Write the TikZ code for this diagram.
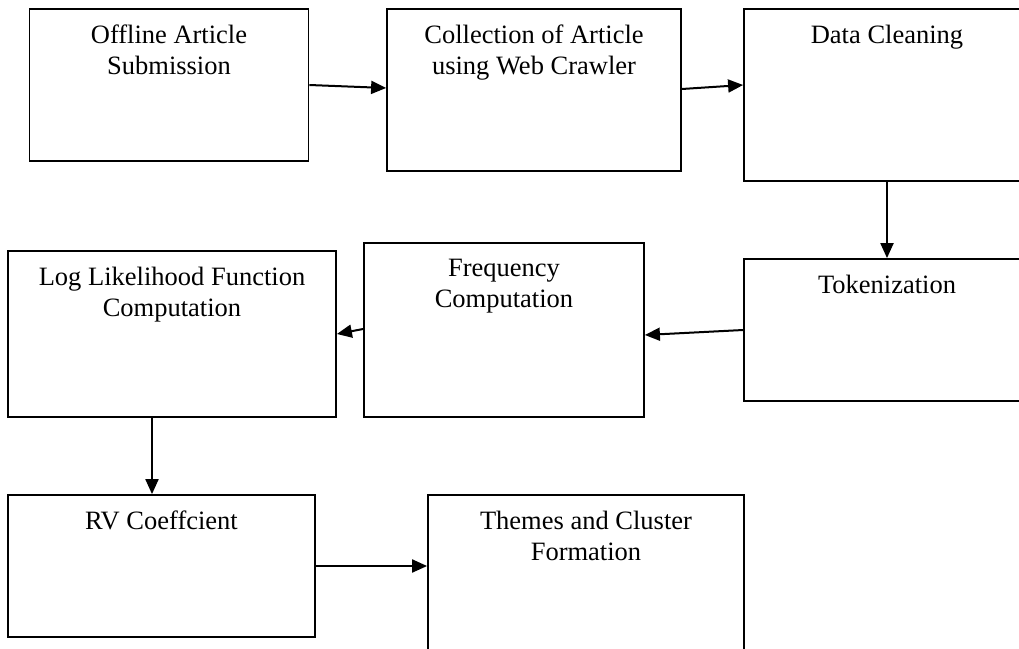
\documentclass[tikz,border=0pt]{standalone}
\usepackage{fontspec}
\setmainfont{Liberation Serif}
\usetikzlibrary{arrows.meta}

\begin{document}
\begin{tikzpicture}[x=1pt, y=-1pt,
  stage/.style={draw, line width=1.8pt, inner sep=0pt},
  stagetext/.style={anchor=north, inner sep=0pt, yshift=-17pt, align=center, font=\fontsize{26.5}{31}\selectfont},
  flow/.style={-{Triangle[length=15pt,width=13pt]}, line width=2pt}]
  \clip (0,0) rectangle (1019,648);
  % Top row
  \node[stage, minimum width=279pt, minimum height=152pt,
    label={[stagetext]north:{Offline Article\\Submission}}] (offline) at (169,85) {};
  \node[stage, minimum width=294pt, minimum height=162pt,
    label={[stagetext]north:{Collection of Article\\using Web Crawler}}] (crawler) at (534,90) {};
  \node[stage, minimum width=286pt, minimum height=172pt,
    label={[stagetext]north:{Data Cleaning}}] (cleaning) at (887,95) {};
  % Middle row
  \node[stage, minimum width=286pt, minimum height=142pt,
    label={[stagetext]north:{Tokenization}}] (tokens) at (887,330) {};
  \node[stage, minimum width=280pt, minimum height=174pt,
    label={[stagetext]north:{Frequency\\Computation}}] (frequency) at (504,330) {};
  \node[stage, minimum width=328pt, minimum height=166pt,
    label={[stagetext]north:{Log Likelihood Function\\Computation}}] (loglik) at (172,334) {};
  % Bottom row
  \node[stage, minimum width=307pt, minimum height=142pt,
    label={[stagetext]north:{RV Coeffcient}}] (rvcoef) at (161.5,566) {};
  \node[stage, minimum width=316pt, minimum height=180pt,
    label={[stagetext]north:{Themes and Cluster\\Formation}}] (themes) at (586,585) {};
  % Arrows
  \draw[flow] (offline.east) -- ([yshift=2pt]crawler.west);
  \draw[flow] ([yshift=1pt]crawler.east) -- ([yshift=10pt]cleaning.west);
  \draw[flow] (cleaning.south) -- (tokens.north);
  \draw[flow] (tokens.west) -- ([yshift=-5pt]frequency.east);
  \draw[flow] ([yshift=1pt]frequency.west) -- (loglik.east);
  \draw[flow] ([xshift=-20pt]loglik.south) -- ([xshift=-9.5pt]rvcoef.north);
  \draw[flow] (rvcoef.east) -- (rvcoef.east -| themes.west);
\end{tikzpicture}
\end{document}
